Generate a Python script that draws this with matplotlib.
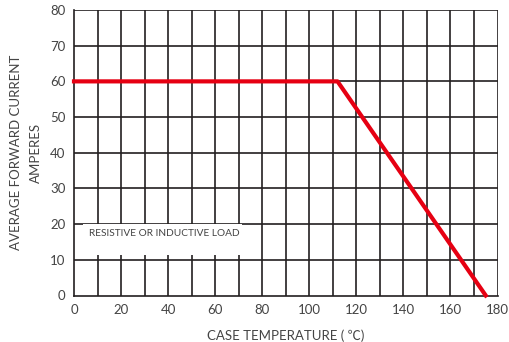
import matplotlib
matplotlib.use("Agg")
import matplotlib.pyplot as plt
from matplotlib.patches import Rectangle

plt.rcParams['font.family'] = ['Lato', 'Noto Sans CJK SC', 'DejaVu Sans']

temp = [0, 112, 175]
current = [60, 60, 0]
xticks = list(range(0, 181, 20))
yticks = list(range(0, 81, 10))

fig = plt.figure(figsize=(5.1, 3.42), dpi=100)
ax = fig.add_axes([74/510, 1-295.5/342, (497.5-74)/510, (295.5-10)/342])
ax.set_xlim(0, 180)
ax.set_ylim(0, 80)
gc = '#231f20'
for x in range(10, 181, 10):
    ax.axvline(x, color=gc, lw=1.2, zorder=1)
for y in range(10, 81, 10):
    ax.axhline(y, color=gc, lw=1.2, zorder=1)
for s in ax.spines.values():
    s.set_color(gc); s.set_linewidth(1.2)
ax.spines['top'].set_visible(False)
ax.spines['right'].set_visible(False)

ax.add_patch(Rectangle((3.8, 11.4), 67.8, 8.75, facecolor='white', edgecolor='none', zorder=2))
ax.text(38.5, 17.3, 'RESISTIVE OR INDUCTIVE LOAD', ha='center', va='center', fontsize=7.3, color='#444444', zorder=3)

ax.plot(temp, current, color='#e60012', lw=3, zorder=4, solid_joinstyle='round', clip_on=False)

ax.set_xticks(xticks)
ax.set_yticks(yticks)
ax.tick_params(length=0, labelsize=9.5, labelcolor='#444444', pad=6)
ax.set_xlabel('CASE TEMPERATURE ( ℃)', fontsize=9.5, color='#444444', labelpad=9.5)
ax.set_ylabel('AVERAGE FORWARD CURRENT\nAMPERES', fontsize=9.5, color='#444444', labelpad=6, linespacing=1.75)

fig.savefig('out.png', dpi=100)
